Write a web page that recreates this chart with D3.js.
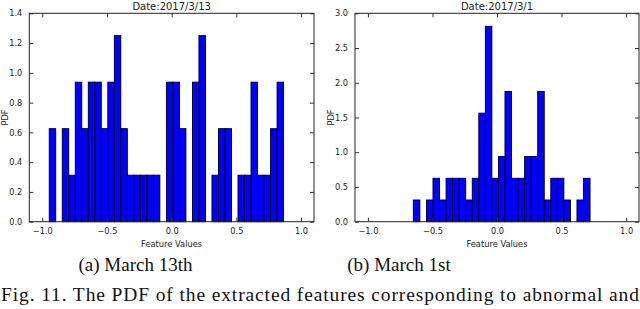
<!DOCTYPE html>
<html>
<head>
<meta charset="utf-8">
<script src="https://cdn.jsdelivr.net/npm/d3@7"></script>
<style>
  body { margin: 0; background: #fff; }
  svg { display: block; }
  .tick text { font-family: "DejaVu Sans", sans-serif; font-size: 8.2px; fill: #222; }
</style>
</head>
<body>
<script>
// page size
var width = 640,
    height = 309;

// histogram of March 13th (PDF per bin, bins of ~0.05 starting at -0.946)
var marchStart = -0.946,
    marchBinWidth = 0.0503;
var marchPdf = [0.625, 0, 0.625, 0.3125, 0.9375, 0.625, 0.9375, 0.9375, 0.625,
    0.9375, 1.25, 0.625, 0.3125, 0.3125, 0.3125, 0.3125, 0.3125, 0,
    0.9375, 0.9375, 0.625, 0, 0.9375, 1.25, 0, 0.3125, 0.625, 0.625, 0,
    0.3125, 0.3125, 0.9375, 0.3125, 0.3125, 0.625, 0.9375];

// histogram of March 1st
var firstStart = -0.648,
    firstBinWidth = 0.0507;
var firstPdf = [0.3125, 0, 0.3125, 0.625, 0.3125, 0.625, 0.625, 0.625, 0.3125,
    0.625, 1.5625, 2.8125, 0.625, 0.9375, 1.875, 0.625, 0.625, 0.9375,
    0.9375, 1.875, 0.3125, 0.625, 0.625, 0.3125, 0, 0.3125, 0.625];

// axis ticks
var xTicks = [-1.0, -0.5, 0.0, 0.5, 1.0];
var marchYTicks = [0.0, 0.2, 0.4, 0.6, 0.8, 1.0, 1.2, 1.4];
var firstYTicks = [0.0, 0.5, 1.0, 1.5, 2.0, 2.5, 3.0];

var titles = ['Date:2017/3/13', 'Date:2017/3/1'];
var captions = ['(a) March 13th', '(b) March 1st'];
var figText = 'Fig. 11.  The PDF of the extracted features corresponding to abnormal and';

var svg = d3.select('body')
    .append('svg')
    .attr('width', width)
    .attr('height', height);

// matplotlib style labels with a real minus sign
var fmt = function(d) { return d3.format('.1f')(d).replace('-', '\u2212'); };

// draw one histogram panel
function panel(left, right, start, binWidth, pdf, yMax, yTicks, title, caption, capX) {
    var top = 13.3, bottom = 221.7;

    var x = d3.scaleLinear().domain([-1.1, 1.1]).range([left, right]);
    var y = d3.scaleLinear().domain([0, yMax]).range([bottom, top]);

    var g = svg.append('g');

    // keep bin index, skip empty bins
    var bars = pdf.map(function(d, i) { return { i: i, v: d }; })
        .filter(function(d) { return d.v > 0; });

    g.selectAll('rect.bar')
        .data(bars)
        .enter().append('rect')
        .attr('class', 'bar')
        .attr('x', function(d) { return x(start + d.i * binWidth); })
        .attr('width', function(d) { return x(start + (d.i + 1) * binWidth) - x(start + d.i * binWidth); })
        .attr('y', function(d) { return y(d.v); })
        .attr('height', function(d) { return bottom - y(d.v); })
        .attr('fill', '#0000ff')
        .attr('stroke', '#000')
        .attr('stroke-width', 0.9);

    // axes, ticks pointing inward on all four sides
    g.append('g')
        .attr('transform', 'translate(0,' + bottom + ')')
        .call(d3.axisBottom(x).tickValues(xTicks).tickFormat(fmt).tickSizeInner(-4).tickSizeOuter(0).tickPadding(6))
        .call(function(a) { a.select('.domain').remove(); });
    g.append('g')
        .attr('transform', 'translate(0,' + top + ')')
        .call(d3.axisTop(x).tickValues(xTicks).tickFormat('').tickSizeInner(-4).tickSizeOuter(0))
        .call(function(a) { a.select('.domain').remove(); });
    g.append('g')
        .attr('transform', 'translate(' + left + ',0)')
        .call(d3.axisLeft(y).tickValues(yTicks).tickFormat(fmt).tickSizeInner(-4).tickSizeOuter(0).tickPadding(7))
        .call(function(a) { a.select('.domain').remove(); });
    g.append('g')
        .attr('transform', 'translate(' + right + ',0)')
        .call(d3.axisRight(y).tickValues(yTicks).tickFormat('').tickSizeInner(-4).tickSizeOuter(0))
        .call(function(a) { a.select('.domain').remove(); });

    g.selectAll('.tick line').attr('stroke', '#333');

    // frame
    g.append('rect')
        .attr('x', left).attr('y', top)
        .attr('width', right - left).attr('height', bottom - top)
        .attr('fill', 'none')
        .attr('stroke', '#222')
        .attr('stroke-width', 1);

    var mid = (left + right) / 2;

    g.append('text')
        .attr('x', mid).attr('y', 10)
        .attr('text-anchor', 'middle')
        .style('font-family', '"DejaVu Sans", sans-serif')
        .style('font-size', '10px')
        .attr('fill', '#222')
        .text(title);

    g.append('text')
        .attr('x', mid).attr('y', 247)
        .attr('text-anchor', 'middle')
        .style('font-family', '"DejaVu Sans", sans-serif')
        .style('font-size', '8.3px')
        .attr('fill', '#222')
        .text('Feature Values');

    g.append('text')
        .attr('transform', 'translate(' + (left - 21) + ',' + ((top + bottom) / 2) + ') rotate(-90)')
        .attr('text-anchor', 'middle')
        .style('font-family', '"DejaVu Sans", sans-serif')
        .style('font-size', '8.3px')
        .attr('fill', '#222')
        .text('PDF');

    g.append('text')
        .attr('x', capX).attr('y', 271)
        .attr('text-anchor', 'middle')
        .style('font-family', '"Liberation Serif", "Times New Roman", serif')
        .style('font-size', '19px')
        .attr('fill', '#111')
        .text(caption);
}

panel(29.3, 314, marchStart, marchBinWidth, marchPdf, 1.4, marchYTicks, titles[0], captions[0], 135.5);
panel(355, 639, firstStart, firstBinWidth, firstPdf, 3.0, firstYTicks, titles[1], captions[1], 399);

svg.append('text')
    .attr('x', 1).attr('y', 301)
    .attr('textLength', 638)
    .attr('lengthAdjust', 'spacing')
    .style('font-family', '"Liberation Serif", "Times New Roman", serif')
    .style('font-size', '19.5px')
    .attr('fill', '#111')
    .text(figText);
</script>
</body>
</html>
